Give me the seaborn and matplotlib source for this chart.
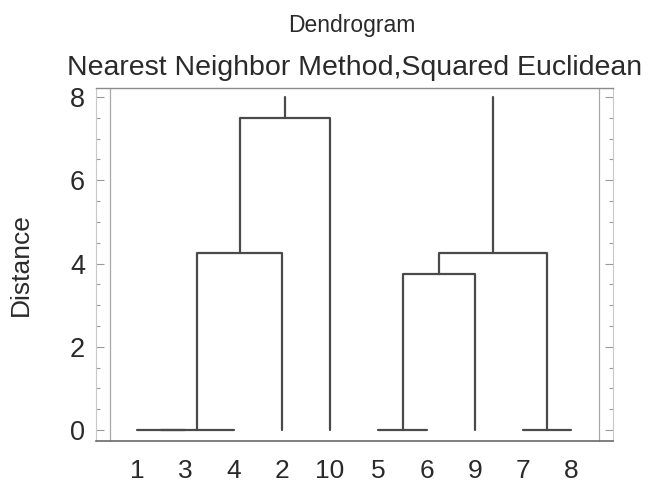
import numpy as np
import pandas as pd
import seaborn as sns
import matplotlib
matplotlib.use("Agg")
import matplotlib.pyplot as plt

# Leaf order along the x axis
leaves = ["1", "3", "4", "2", "10", "5", "6", "9", "7", "8"]

# Merges: (left cluster, right cluster, distance); clusters 0..9 are leaves,
# each merge creates a new cluster numbered from 10 upward
merge_left = [0, 10, 11, 12, 5, 14, 8, 15]
merge_right = [1, 2, 3, 4, 6, 7, 9, 16]
merge_height = [0.0, 0.0, 4.25, 7.5, 0.0, 3.75, 0.0, 4.25]

# Top clusters whose link to the root runs off the top of the chart
top_clusters = [13, 17]
top_height = 8.0

y_ticks = [0, 2, 4, 6, 8]


def build_segments():
    """Turn the merge list into U-shaped link paths."""
    pos = {i: float(i) for i in range(len(leaves))}
    hgt = {i: 0.0 for i in range(len(leaves))}
    rows = []
    seg = 0
    for k, (a, b, h) in enumerate(zip(merge_left, merge_right, merge_height)):
        xs = [pos[a], pos[a], pos[b], pos[b]]
        ys = [hgt[a], h, h, hgt[b]]
        for order, (x, y) in enumerate(zip(xs, ys)):
            rows.append({"seg": seg, "order": order, "x": x, "y": y})
        seg += 1
        new_id = len(leaves) + k
        pos[new_id] = (pos[a] + pos[b]) / 2
        hgt[new_id] = h
    for c in top_clusters:
        for order, y in enumerate([hgt[c], top_height]):
            rows.append({"seg": seg, "order": order, "x": pos[c], "y": y})
        seg += 1
    return pd.DataFrame(rows)


segments = build_segments()

sns.set_theme(style="white")
plt.rcParams["font.family"] = ["Liberation Sans", "DejaVu Sans"]

text_color = "#2a2a2a"
line_color = "#4a4a4a"

fig = plt.figure(figsize=(6.52, 4.86), dpi=100)
ax = fig.add_axes([96 / 652, 45 / 486, 517 / 652, 353 / 486])

sns.lineplot(
    data=segments, x="x", y="y", units="seg", estimator=None, sort=False,
    color=line_color, linewidth=1.6, ax=ax, legend=False
)

ax.set_xlim(-0.85, 9.86)
ax.set_ylim(-0.264, 8.216)

# x axis: leaf labels, no tick marks
ax.set_xticks(range(len(leaves)))
ax.set_xticklabels(leaves)
ax.tick_params(axis="x", length=0, pad=13, labelsize=19, labelcolor=text_color)

# y axis: inward ticks on both sides
ax.set_yticks(y_ticks)
ax.set_yticks(np.arange(0, 8.01, 0.5), minor=True)
ax.tick_params(axis="y", which="both", direction="in", left=True, right=True,
               color="#9a9a9a", width=0.8)
ax.tick_params(axis="y", which="major", length=6, pad=8, labelsize=19.5,
               labelcolor=text_color)
ax.tick_params(axis="y", which="minor", length=3)

for side in ["left", "right"]:
    ax.spines[side].set_color("#c8c8c8")
    ax.spines[side].set_linewidth(0.8)
ax.spines["top"].set_color("#8a8a8a")
ax.spines["bottom"].set_color("#6a6a6a")
ax.spines["top"].set_linewidth(1.0)
ax.spines["bottom"].set_linewidth(1.2)

# inner frame lines
for fx in [14 / 517, 1 - 14 / 517]:
    ax.plot([fx, fx], [0, 1], transform=ax.transAxes, color="#a8a8a8",
            linewidth=0.9, clip_on=False)

ax.set_xlabel("")
ax.set_ylabel("Distance", fontsize=19, color=text_color)
ax.yaxis.set_label_coords(-0.122, 0.5)

ax.set_title("Nearest Neighbor Method,Squared Euclidean", fontsize=20.5,
             color=text_color, pad=9.5)
fig.text(352 / 652, 1 - 32 / 486, "Dendrogram", ha="center", va="baseline",
         fontsize=16.5, color=text_color)

fig.savefig("out.png", dpi=100)
plt.close(fig)
